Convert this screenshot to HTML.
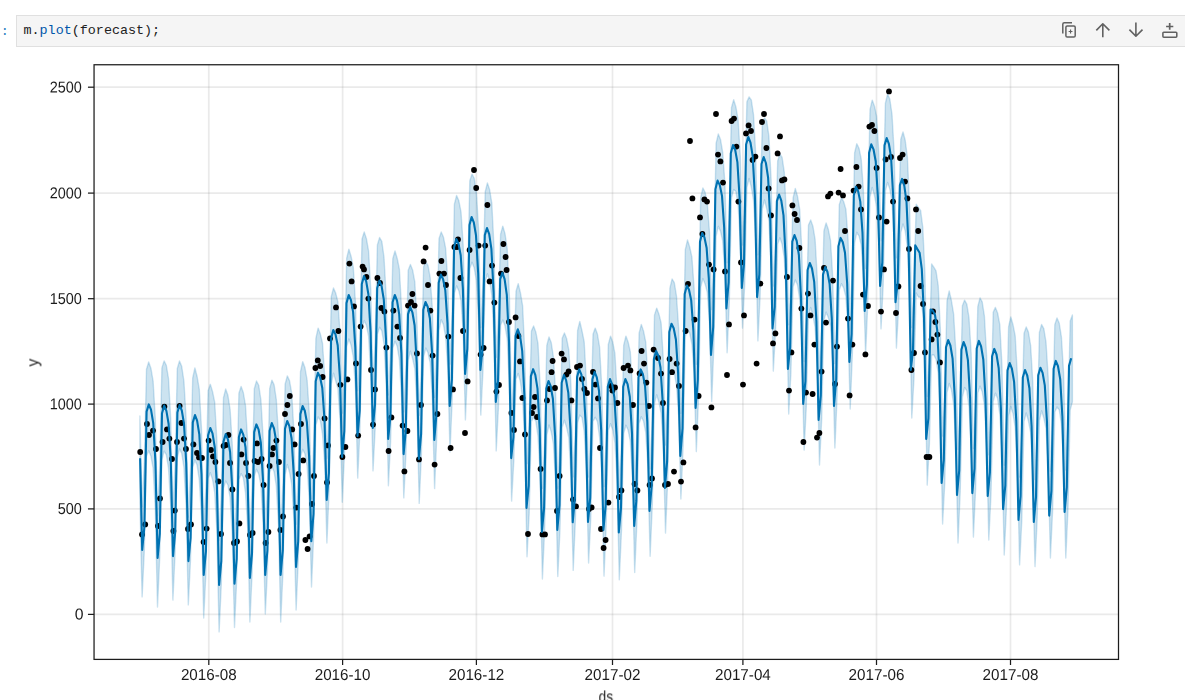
<!DOCTYPE html>
<html><head><meta charset="utf-8"><title>m.plot(forecast)</title>
<style>
html,body{margin:0;padding:0;background:#fff;}
body{width:1185px;height:700px;overflow:hidden;position:relative;font-family:"Liberation Sans",sans-serif;}
.prompt{position:absolute;left:0.8px;top:23.3px;font:13.4px/17px "Liberation Mono",monospace;color:#307fc1;}
.cell{position:absolute;left:16px;top:15px;width:1200px;height:29.6px;border:1px solid #e0e0e0;background:#f5f5f5;box-sizing:content-box;}
.code{position:absolute;left:6.5px;top:5.7px;font:13.4px/17px "Liberation Mono",monospace;color:#212121;white-space:pre;}
.code .p{color:#0055aa;}
svg{position:absolute;left:0;top:0;}
</style></head><body>
<div class="prompt">:</div>
<div class="cell"><div class="code">m.<span class="p">plot</span>(forecast);</div></div>
<svg width="1185" height="700" viewBox="0 0 1185 700">
<g fill="none" stroke="#616161" stroke-width="1.5" stroke-linejoin="round" stroke-linecap="butt">
<path d="M1072.0 22.7 H1064.3 Q1062.8 22.7 1062.8 24.2 V33.5"/>
<rect x="1065.9" y="25.9" width="9.3" height="11.2" rx="1.3"/>
<path d="M1070.55 29.6 V33.4 M1068.65 31.5 H1072.45" stroke-width="1.15"/>
<path d="M1102.8 37.3 V23.9 M1096.3 30.4 L1102.8 23.8 L1109.4 30.4" stroke-width="1.6"/>
<path d="M1135.9 22.6 V36.1 M1129.4 29.6 L1135.9 36.2 L1142.5 29.6" stroke-width="1.6"/>
<path d="M1169.7 22.9 V29.7 M1166.1 26.5 H1173.3" stroke-width="1.7"/>
<rect x="1162.9" y="32.2" width="13.9" height="5.0" rx="0.9" stroke-width="1.55"/>
</g>
<defs><filter id="soft" x="0" y="0" width="1185" height="700" filterUnits="userSpaceOnUse"><feGaussianBlur stdDeviation="0.32"/></filter></defs>
<g filter="url(#soft)">
<g stroke="#808080" stroke-opacity="0.165" stroke-width="1.7" fill="none"><line x1="208.8" y1="64.75" x2="208.8" y2="659.4"/><line x1="342.6" y1="64.75" x2="342.6" y2="659.4"/><line x1="476.4" y1="64.75" x2="476.4" y2="659.4"/><line x1="612.5" y1="64.75" x2="612.5" y2="659.4"/><line x1="742.9" y1="64.75" x2="742.9" y2="659.4"/><line x1="876.5" y1="64.75" x2="876.5" y2="659.4"/><line x1="1010.5" y1="64.75" x2="1010.5" y2="659.4"/><line x1="94.05" y1="614.4" x2="1118.5" y2="614.4"/><line x1="94.05" y1="508.9" x2="1118.5" y2="508.9"/><line x1="94.05" y1="404.1" x2="1118.5" y2="404.1"/><line x1="94.05" y1="298.7" x2="1118.5" y2="298.7"/><line x1="94.05" y1="193.1" x2="1118.5" y2="193.1"/><line x1="94.05" y1="87.2" x2="1118.5" y2="87.2"/></g>
<polygon points="139.9,415.9 142.1,506.6 144.3,463.4 146.5,369.2 148.7,362.0 150.9,368.2 153.1,381.0 155.3,418.1 157.5,515.7 159.7,468.0 161.9,367.9 164.1,360.9 166.3,365.3 168.5,378.5 170.7,418.6 172.9,512.8 175.1,464.3 177.3,368.5 179.5,360.9 181.7,366.3 183.9,381.0 186.1,417.7 188.3,517.1 190.5,470.7 192.7,378.0 194.9,367.9 197.1,376.5 199.3,389.4 201.5,429.0 203.7,529.1 205.9,486.7 208.1,390.7 210.3,384.3 212.5,391.4 214.7,402.2 216.9,440.9 219.1,540.3 221.3,493.8 223.5,397.6 225.7,389.0 227.9,395.3 230.1,409.5 232.3,445.1 234.5,538.9 236.7,493.1 238.9,393.2 241.1,386.4 243.3,392.5 245.5,405.5 247.7,442.4 249.9,535.0 252.1,485.8 254.3,388.8 256.5,381.0 258.7,385.2 260.9,399.9 263.1,437.3 265.3,530.2 267.5,485.9 269.7,388.4 271.9,380.1 274.1,384.8 276.3,399.5 278.5,436.1 280.7,529.7 282.9,482.7 285.1,384.2 287.3,375.9 289.5,380.6 291.7,393.1 293.9,431.3 296.1,524.3 298.3,472.6 300.5,371.6 302.7,361.6 304.9,367.4 307.1,380.0 309.3,413.4 311.5,498.7 313.7,443.6 315.9,338.3 318.1,328.1 320.3,333.8 322.5,343.2 324.7,376.5 326.9,458.2 329.1,405.6 331.3,296.4 333.5,288.0 335.7,293.1 337.9,301.9 340.1,333.3 342.3,413.1 344.5,361.1 346.7,258.1 348.9,249.1 351.1,256.5 353.3,267.4 355.5,303.5 357.7,390.8 359.9,340.8 362.0,239.1 364.2,232.0 366.4,238.6 368.6,251.2 370.8,290.3 373.0,385.3 375.2,338.2 377.4,244.9 379.6,237.5 381.8,241.3 384.0,257.2 386.2,296.8 388.4,395.0 390.6,349.3 392.8,258.6 395.0,251.0 397.2,258.4 399.4,269.2 401.6,309.6 403.8,411.9 406.0,364.3 408.2,270.3 410.4,264.4 412.6,269.9 414.8,281.9 417.0,322.0 419.2,415.3 421.4,367.2 423.6,266.8 425.8,261.9 428.0,265.4 430.2,277.7 432.4,309.2 434.6,397.4 436.8,344.6 439.0,238.8 441.2,232.0 443.4,237.0 445.6,248.1 447.8,280.9 450.0,364.1 452.2,309.6 454.4,204.1 456.6,195.5 458.8,200.6 461.0,211.8 463.2,245.5 465.4,330.9 467.6,283.2 469.8,180.7 472.0,174.1 474.2,178.3 476.4,192.5 478.6,229.8 480.8,327.5 483.0,281.8 485.2,191.8 487.4,182.9 489.6,189.5 491.8,203.0 494.0,247.4 496.2,357.3 498.4,316.5 500.6,234.1 502.8,226.1 505.0,233.6 507.2,248.6 509.4,296.3 511.6,412.2 513.8,374.7 516.0,291.4 518.2,283.6 520.4,292.7 522.6,305.6 524.8,352.6 527.0,463.6 529.2,422.5 531.4,331.1 533.6,326.0 535.8,331.9 538.0,343.6 540.2,387.1 542.4,488.4 544.6,442.1 546.8,345.5 549.0,336.9 551.2,342.4 553.4,357.0 555.6,392.4 557.8,488.2 560.0,437.2 562.2,338.3 564.4,332.9 566.6,338.6 568.8,349.9 571.0,385.8 573.2,476.9 575.4,430.9 577.6,330.4 579.8,321.5 582.0,330.8 584.2,342.0 586.4,382.5 588.6,477.0 590.8,430.2 593.0,334.3 595.2,328.1 597.4,334.0 599.6,347.2 601.8,387.7 604.0,486.5 606.1,440.7 608.3,344.5 610.5,336.1 612.7,341.9 614.9,353.4 617.1,392.6 619.3,489.8 621.5,443.3 623.7,345.2 625.9,336.1 628.1,341.9 630.3,351.8 632.5,388.7 634.7,482.2 636.9,432.4 639.1,333.2 641.3,324.5 643.5,330.9 645.7,341.8 647.9,378.4 650.1,468.9 652.3,419.2 654.5,314.9 656.7,308.1 658.9,313.9 661.1,322.8 663.3,358.9 665.5,445.0 667.7,393.4 669.9,288.1 672.1,279.0 674.3,282.6 676.5,296.2 678.7,329.0 680.9,413.4 683.1,359.2 685.3,249.6 687.5,240.0 689.7,247.0 691.9,257.2 694.1,288.0 696.3,364.3 698.5,310.3 700.7,197.4 702.9,188.0 705.1,192.2 707.3,203.6 709.5,232.0 711.7,309.6 713.9,255.7 716.1,143.3 718.3,134.0 720.5,139.4 722.7,152.3 724.9,183.2 727.1,262.8 729.3,212.2 731.5,107.4 733.7,99.7 735.9,106.9 738.1,119.8 740.3,156.0 742.5,245.0 744.7,198.3 746.9,101.8 749.1,96.9 751.3,99.9 753.5,114.6 755.7,154.2 757.9,254.9 760.1,213.2 762.3,123.5 764.5,118.0 766.7,120.9 768.9,136.2 771.1,179.0 773.3,286.0 775.5,244.8 777.7,160.8 779.9,154.0 782.1,157.4 784.3,172.4 786.5,217.3 788.7,324.7 790.9,282.7 793.1,197.8 795.3,188.4 797.5,196.2 799.7,209.4 801.9,251.6 804.1,361.6 806.3,316.7 808.5,225.0 810.7,220.0 812.9,226.2 815.1,239.4 817.3,278.8 819.5,374.9 821.7,330.2 823.9,231.0 826.1,222.9 828.3,229.3 830.5,240.5 832.7,277.2 834.9,363.5 837.1,312.1 839.3,204.6 841.5,197.4 843.7,201.8 845.9,209.4 848.1,239.9 850.2,318.0 852.4,265.5 854.6,152.8 856.8,143.7 859.0,148.2 861.2,159.0 863.4,190.6 865.6,268.2 867.8,214.2 870.0,109.7 872.2,100.1 874.4,105.9 876.6,116.2 878.8,152.5 881.0,240.7 883.2,196.2 885.4,103.2 887.6,94.0 889.8,99.0 892.0,114.3 894.2,153.0 896.4,257.7 898.6,219.7 900.8,139.3 903.0,131.9 905.2,140.3 907.4,157.3 909.6,206.8 911.8,327.5 914.0,287.2 916.2,204.2 918.4,207.3 920.6,210.4 922.8,227.4 925.0,274.9 927.2,396.5 929.4,355.9 931.6,264.0 933.8,267.2 936.0,270.8 938.2,285.5 940.4,329.7 942.6,436.0 944.8,394.3 947.0,300.8 949.2,291.0 951.4,300.5 953.6,313.8 955.8,351.1 958.0,449.5 960.2,405.5 962.4,305.7 964.6,300.1 966.8,304.2 969.0,317.7 971.2,353.9 973.4,448.5 975.6,403.7 977.8,306.6 980.0,297.9 982.2,301.8 984.4,316.1 986.6,355.6 988.8,454.8 991.0,406.8 993.2,312.3 995.4,307.4 997.6,313.0 999.8,324.6 1002.0,366.0 1004.2,465.2 1006.4,419.4 1008.6,326.8 1010.8,316.9 1013.0,324.7 1015.2,336.0 1017.4,375.7 1019.6,477.1 1021.8,430.7 1024.0,333.4 1026.2,327.0 1028.4,332.1 1030.6,345.3 1032.8,382.4 1035.0,479.6 1037.2,432.4 1039.4,332.4 1041.6,324.5 1043.8,328.6 1046.0,342.2 1048.2,377.6 1050.4,471.3 1052.6,425.3 1054.8,324.6 1057.0,318.0 1059.2,323.0 1061.4,336.8 1063.6,373.1 1065.8,470.0 1068.0,421.4 1070.2,321.0 1072.4,315.0 1072.4,401.9 1070.2,409.9 1068.0,508.7 1065.8,558.0 1063.6,463.7 1061.4,423.7 1059.2,409.7 1057.0,407.0 1054.8,412.0 1052.6,510.5 1050.4,558.0 1048.2,465.5 1046.0,428.3 1043.8,417.9 1041.6,410.8 1039.4,420.5 1037.2,518.1 1035.0,566.6 1032.8,472.6 1030.6,432.1 1028.4,420.8 1026.2,413.0 1024.0,421.6 1021.8,520.1 1019.6,564.9 1017.4,466.0 1015.2,427.5 1013.0,413.5 1010.8,406.4 1008.6,416.0 1006.4,508.7 1004.2,555.0 1002.0,451.8 999.8,414.0 997.6,398.6 995.4,393.1 993.2,401.6 991.0,494.0 988.8,540.0 986.6,443.0 984.4,405.0 982.2,391.7 980.0,386.1 977.8,393.1 975.6,488.9 973.4,537.1 971.2,444.0 969.0,406.8 966.8,390.7 964.6,387.5 962.4,397.0 960.2,491.9 958.0,543.0 955.8,444.7 953.6,403.9 951.4,389.5 949.2,383.5 947.0,392.6 944.8,482.2 942.6,524.0 940.4,415.8 938.2,372.9 936.0,359.2 933.8,354.7 931.6,355.3 929.4,444.0 927.2,485.1 925.0,361.4 922.8,313.3 920.6,297.2 918.4,297.0 916.2,293.0 914.0,377.9 911.8,418.0 909.6,294.6 907.4,247.6 905.2,230.8 903.0,223.9 900.8,232.6 898.6,308.7 896.4,348.1 894.2,242.5 892.0,201.0 889.8,189.1 887.6,182.4 885.4,190.7 883.2,285.1 881.0,328.9 878.8,242.3 876.6,206.6 874.4,195.2 872.2,187.4 870.0,197.0 867.8,302.8 865.6,355.0 863.4,278.6 861.2,244.8 859.0,235.9 856.8,232.3 854.6,242.9 852.4,352.9 850.2,409.0 848.1,330.2 845.9,296.6 843.7,288.0 841.5,283.7 839.3,289.7 837.1,396.3 834.9,448.0 832.7,362.0 830.5,325.7 828.3,317.4 826.1,312.1 823.9,320.6 821.7,418.5 819.5,465.0 817.3,366.2 815.1,327.3 812.9,315.4 810.7,307.4 808.5,315.2 806.3,406.9 804.1,450.1 801.9,344.6 799.7,299.4 797.5,284.7 795.3,280.0 793.1,286.8 790.9,373.1 788.7,414.0 786.5,303.0 784.3,258.2 782.1,244.3 779.9,237.8 777.7,243.9 775.5,331.4 773.3,371.1 771.1,265.0 768.9,221.0 766.7,208.8 764.5,200.0 762.3,209.0 760.1,296.3 757.9,340.9 755.7,238.7 753.5,200.1 751.3,187.1 749.1,178.4 746.9,187.5 744.7,284.4 742.5,328.1 740.3,241.9 738.1,204.7 735.9,191.6 733.7,189.4 731.5,197.8 729.3,302.4 727.1,352.7 724.9,273.9 722.7,240.9 720.5,231.3 718.3,226.3 716.1,236.2 713.9,344.8 711.7,401.6 709.5,322.4 707.3,292.3 705.1,283.9 702.9,278.5 700.7,287.4 698.5,398.5 696.3,451.6 694.1,373.2 691.9,344.0 689.7,333.0 687.5,329.6 685.3,336.9 683.1,447.0 680.9,499.0 678.7,416.2 676.5,385.5 674.3,372.8 672.1,369.9 669.9,375.7 667.7,480.6 665.5,533.1 663.3,445.7 661.1,413.1 658.9,402.2 656.7,394.8 654.5,403.2 652.3,504.8 650.1,556.3 647.9,466.4 645.7,432.2 643.5,421.0 641.3,416.7 639.1,423.5 636.9,522.6 634.7,572.5 632.5,478.9 630.3,441.0 628.1,430.0 625.9,425.2 623.7,433.6 621.5,530.0 619.3,579.7 617.1,480.6 614.9,442.6 612.7,429.5 610.5,423.7 608.3,430.6 606.1,527.3 604.0,576.1 601.8,474.1 599.6,437.3 597.4,421.3 595.2,417.3 593.0,421.5 590.8,517.2 588.6,563.0 586.4,471.0 584.2,431.4 582.0,417.5 579.8,415.1 577.6,422.8 575.4,519.6 573.2,570.4 571.0,477.5 568.8,437.6 566.6,427.4 564.4,420.2 562.2,427.2 560.0,528.8 557.8,576.5 555.6,481.9 553.4,444.0 551.2,431.8 549.0,425.0 546.8,435.2 544.6,530.0 542.4,579.0 540.2,475.2 538.0,436.1 535.8,421.1 533.6,417.3 531.4,421.6 529.2,513.1 527.0,556.7 524.8,442.6 522.6,398.3 520.4,381.8 518.2,373.5 516.0,378.9 513.8,461.1 511.6,501.1 509.4,387.3 507.2,338.8 505.0,325.8 502.8,320.0 500.6,325.1 498.4,408.2 496.2,450.9 494.0,339.0 491.8,295.0 489.6,281.1 487.4,273.8 485.2,281.7 483.0,370.3 480.8,415.1 478.6,319.8 476.4,280.6 474.2,267.8 472.0,262.2 469.8,268.9 467.6,368.8 465.4,419.9 463.2,332.5 461.0,300.7 458.8,290.7 456.6,285.9 454.4,293.0 452.2,399.1 450.0,452.0 447.8,368.5 445.6,336.5 443.4,324.4 441.2,319.7 439.0,330.5 436.8,435.0 434.6,488.6 432.4,400.1 430.2,362.8 428.0,352.8 425.8,348.1 423.6,356.9 421.4,453.9 419.2,503.4 417.0,406.5 414.8,368.6 412.6,358.6 410.4,351.1 408.2,360.6 406.0,452.2 403.8,497.9 401.6,398.3 399.4,359.9 397.2,346.2 395.0,341.3 392.8,348.2 390.6,441.2 388.4,485.7 386.2,383.7 384.0,343.9 381.8,330.7 379.6,327.3 377.4,334.2 375.2,428.2 373.0,470.9 370.8,375.3 368.6,336.3 366.4,325.2 364.2,320.6 362.0,328.9 359.9,431.3 357.7,478.1 355.5,389.8 353.3,356.9 351.1,345.2 348.9,338.9 346.7,346.8 344.5,453.0 342.3,502.3 340.1,420.1 337.9,388.6 335.7,380.7 333.5,373.1 331.3,384.0 329.1,490.8 326.9,543.0 324.7,463.9 322.5,434.2 320.3,420.3 318.1,416.9 315.9,425.2 313.7,534.5 311.5,587.0 309.3,500.7 307.1,465.9 304.9,453.8 302.7,449.3 300.5,457.3 298.3,559.6 296.1,610.0 293.9,518.9 291.7,484.2 289.5,472.0 287.3,464.4 285.1,474.7 282.9,573.0 280.7,622.0 278.5,524.9 276.3,485.8 274.1,471.7 271.9,466.7 269.7,472.8 267.5,569.2 265.3,614.0 263.1,523.9 260.9,484.8 258.7,474.0 256.5,469.2 254.3,476.0 252.1,572.9 249.9,622.0 247.7,527.9 245.5,492.7 243.3,477.6 241.1,473.7 238.9,479.7 236.7,579.8 234.5,627.5 232.3,535.9 230.1,497.6 227.9,485.0 225.7,481.0 223.5,488.4 221.3,584.2 219.1,631.9 216.9,531.0 214.7,492.4 212.5,479.2 210.3,472.7 208.1,478.5 205.9,573.3 203.7,618.0 201.5,517.5 199.3,479.8 197.1,465.1 194.9,460.0 192.7,467.7 190.5,560.0 188.3,604.9 186.1,506.8 183.9,467.0 181.7,453.2 179.5,448.9 177.3,457.5 175.1,552.5 172.9,600.1 170.7,504.6 168.5,468.1 166.3,454.7 164.1,451.1 161.9,459.8 159.7,557.8 157.5,607.0 155.3,509.3 153.1,467.9 150.9,456.0 148.7,450.8 146.5,456.2 144.3,551.0 142.1,596.9 139.9,502.8" fill="#0072B2" fill-opacity="0.2" stroke="#0072B2" stroke-opacity="0.2" stroke-width="1.4" stroke-linejoin="round"/>
<g fill="#000"><circle cx="140.2" cy="452.0" r="2.9"/><circle cx="147.0" cy="424.0" r="2.9"/><circle cx="149.0" cy="435.0" r="2.9"/><circle cx="153.0" cy="430.6" r="2.9"/><circle cx="156.0" cy="449.0" r="2.9"/><circle cx="162.6" cy="442.0" r="2.9"/><circle cx="164.4" cy="406.6" r="2.9"/><circle cx="167.0" cy="429.4" r="2.9"/><circle cx="169.4" cy="438.6" r="2.9"/><circle cx="172.0" cy="459.0" r="2.9"/><circle cx="177.0" cy="442.0" r="2.9"/><circle cx="179.6" cy="406.0" r="2.9"/><circle cx="181.4" cy="423.0" r="2.9"/><circle cx="184.0" cy="438.6" r="2.9"/><circle cx="186.0" cy="449.0" r="2.9"/><circle cx="193.4" cy="444.4" r="2.9"/><circle cx="197.0" cy="453.0" r="2.9"/><circle cx="199.0" cy="457.4" r="2.9"/><circle cx="202.0" cy="458.0" r="2.9"/><circle cx="208.6" cy="440.6" r="2.9"/><circle cx="211.0" cy="450.0" r="2.9"/><circle cx="213.0" cy="456.4" r="2.9"/><circle cx="215.4" cy="462.0" r="2.9"/><circle cx="223.6" cy="446.0" r="2.9"/><circle cx="226.0" cy="445.0" r="2.9"/><circle cx="228.4" cy="435.0" r="2.9"/><circle cx="230.0" cy="463.0" r="2.9"/><circle cx="241.4" cy="454.4" r="2.9"/><circle cx="243.6" cy="439.6" r="2.9"/><circle cx="246.0" cy="463.0" r="2.9"/><circle cx="254.6" cy="461.0" r="2.9"/><circle cx="257.0" cy="443.4" r="2.9"/><circle cx="258.0" cy="462.0" r="2.9"/><circle cx="261.6" cy="459.0" r="2.9"/><circle cx="269.6" cy="466.0" r="2.9"/><circle cx="272.0" cy="454.4" r="2.9"/><circle cx="273.4" cy="448.0" r="2.9"/><circle cx="276.4" cy="440.6" r="2.9"/><circle cx="279.0" cy="462.0" r="2.9"/><circle cx="285.0" cy="414.0" r="2.9"/><circle cx="287.4" cy="405.0" r="2.9"/><circle cx="289.8" cy="396.0" r="2.9"/><circle cx="292.2" cy="429.4" r="2.9"/><circle cx="294.6" cy="444.4" r="2.9"/><circle cx="301.0" cy="424.0" r="2.9"/><circle cx="303.2" cy="460.4" r="2.9"/><circle cx="315.4" cy="368.0" r="2.9"/><circle cx="317.8" cy="360.4" r="2.9"/><circle cx="320.2" cy="366.0" r="2.9"/><circle cx="322.6" cy="377.0" r="2.9"/><circle cx="324.6" cy="418.4" r="2.9"/><circle cx="328.0" cy="445.4" r="2.9"/><circle cx="330.0" cy="338.4" r="2.9"/><circle cx="160.0" cy="498.4" r="2.9"/><circle cx="174.8" cy="510.6" r="2.9"/><circle cx="145.2" cy="524.4" r="2.9"/><circle cx="142.0" cy="534.4" r="2.9"/><circle cx="158.0" cy="526.0" r="2.9"/><circle cx="173.4" cy="531.0" r="2.9"/><circle cx="191.0" cy="524.4" r="2.9"/><circle cx="188.0" cy="529.0" r="2.9"/><circle cx="206.6" cy="528.6" r="2.9"/><circle cx="203.6" cy="542.0" r="2.9"/><circle cx="221.0" cy="534.0" r="2.9"/><circle cx="218.4" cy="481.4" r="2.9"/><circle cx="232.4" cy="489.4" r="2.9"/><circle cx="239.4" cy="523.4" r="2.9"/><circle cx="237.0" cy="541.4" r="2.9"/><circle cx="234.0" cy="543.0" r="2.9"/><circle cx="248.4" cy="476.0" r="2.9"/><circle cx="252.6" cy="533.0" r="2.9"/><circle cx="250.0" cy="535.0" r="2.9"/><circle cx="263.6" cy="485.0" r="2.9"/><circle cx="268.4" cy="532.0" r="2.9"/><circle cx="265.6" cy="543.0" r="2.9"/><circle cx="283.0" cy="516.4" r="2.9"/><circle cx="280.4" cy="530.0" r="2.9"/><circle cx="296.4" cy="507.6" r="2.9"/><circle cx="298.6" cy="474.0" r="2.9"/><circle cx="314.0" cy="476.0" r="2.9"/><circle cx="312.0" cy="504.0" r="2.9"/><circle cx="309.6" cy="536.4" r="2.9"/><circle cx="305.4" cy="540.0" r="2.9"/><circle cx="307.6" cy="549.0" r="2.9"/><circle cx="327.0" cy="482.4" r="2.9"/><circle cx="349.4" cy="263.6" r="2.9"/><circle cx="351.6" cy="281.4" r="2.9"/><circle cx="362.6" cy="266.6" r="2.9"/><circle cx="364.0" cy="269.4" r="2.9"/><circle cx="366.4" cy="277.0" r="2.9"/><circle cx="377.4" cy="278.0" r="2.9"/><circle cx="380.0" cy="283.0" r="2.9"/><circle cx="425.6" cy="247.6" r="2.9"/><circle cx="423.6" cy="261.4" r="2.9"/><circle cx="428.0" cy="285.0" r="2.9"/><circle cx="441.4" cy="261.0" r="2.9"/><circle cx="439.4" cy="273.6" r="2.9"/><circle cx="444.0" cy="273.6" r="2.9"/><circle cx="446.0" cy="285.0" r="2.9"/><circle cx="458.0" cy="239.4" r="2.9"/><circle cx="454.4" cy="247.0" r="2.9"/><circle cx="457.0" cy="247.0" r="2.9"/><circle cx="460.4" cy="278.0" r="2.9"/><circle cx="474.0" cy="170.0" r="2.9"/><circle cx="476.2" cy="188.0" r="2.9"/><circle cx="469.6" cy="250.0" r="2.9"/><circle cx="478.6" cy="245.6" r="2.9"/><circle cx="487.4" cy="205.0" r="2.9"/><circle cx="485.2" cy="245.6" r="2.9"/><circle cx="492.0" cy="265.6" r="2.9"/><circle cx="489.6" cy="281.4" r="2.9"/><circle cx="503.4" cy="244.0" r="2.9"/><circle cx="505.6" cy="257.0" r="2.9"/><circle cx="506.6" cy="270.0" r="2.9"/><circle cx="501.0" cy="273.6" r="2.9"/><circle cx="336.0" cy="307.4" r="2.9"/><circle cx="354.0" cy="306.4" r="2.9"/><circle cx="368.4" cy="298.6" r="2.9"/><circle cx="381.4" cy="308.0" r="2.9"/><circle cx="384.4" cy="311.6" r="2.9"/><circle cx="393.4" cy="310.6" r="2.9"/><circle cx="338.4" cy="331.0" r="2.9"/><circle cx="360.6" cy="326.6" r="2.9"/><circle cx="397.4" cy="326.6" r="2.9"/><circle cx="400.0" cy="338.0" r="2.9"/><circle cx="386.4" cy="347.6" r="2.9"/><circle cx="356.0" cy="363.4" r="2.9"/><circle cx="347.4" cy="379.4" r="2.9"/><circle cx="340.4" cy="384.8" r="2.9"/><circle cx="371.0" cy="370.0" r="2.9"/><circle cx="375.0" cy="389.4" r="2.9"/><circle cx="412.4" cy="294.0" r="2.9"/><circle cx="411.0" cy="302.0" r="2.9"/><circle cx="408.0" cy="305.6" r="2.9"/><circle cx="414.6" cy="305.6" r="2.9"/><circle cx="430.4" cy="310.6" r="2.9"/><circle cx="417.0" cy="353.4" r="2.9"/><circle cx="432.6" cy="355.6" r="2.9"/><circle cx="421.0" cy="405.0" r="2.9"/><circle cx="448.4" cy="336.6" r="2.9"/><circle cx="463.0" cy="331.0" r="2.9"/><circle cx="453.0" cy="389.4" r="2.9"/><circle cx="467.6" cy="381.4" r="2.9"/><circle cx="494.4" cy="302.6" r="2.9"/><circle cx="483.6" cy="348.0" r="2.9"/><circle cx="480.6" cy="354.6" r="2.9"/><circle cx="499.0" cy="385.0" r="2.9"/><circle cx="496.4" cy="391.6" r="2.9"/><circle cx="515.6" cy="317.4" r="2.9"/><circle cx="509.0" cy="322.0" r="2.9"/><circle cx="518.4" cy="336.0" r="2.9"/><circle cx="520.0" cy="361.4" r="2.9"/><circle cx="522.4" cy="398.0" r="2.9"/><circle cx="535.0" cy="397.0" r="2.9"/><circle cx="533.6" cy="407.0" r="2.9"/><circle cx="345.4" cy="447.0" r="2.9"/><circle cx="342.4" cy="457.0" r="2.9"/><circle cx="358.2" cy="435.6" r="2.9"/><circle cx="373.0" cy="424.6" r="2.9"/><circle cx="391.4" cy="417.4" r="2.9"/><circle cx="388.6" cy="451.0" r="2.9"/><circle cx="402.6" cy="425.6" r="2.9"/><circle cx="407.4" cy="431.0" r="2.9"/><circle cx="404.4" cy="471.4" r="2.9"/><circle cx="419.0" cy="459.4" r="2.9"/><circle cx="437.4" cy="414.0" r="2.9"/><circle cx="434.6" cy="464.6" r="2.9"/><circle cx="450.6" cy="448.0" r="2.9"/><circle cx="465.0" cy="433.0" r="2.9"/><circle cx="511.4" cy="413.0" r="2.9"/><circle cx="514.0" cy="430.0" r="2.9"/><circle cx="525.0" cy="434.4" r="2.9"/><circle cx="532.0" cy="413.0" r="2.9"/><circle cx="537.0" cy="417.0" r="2.9"/><circle cx="552.6" cy="361.0" r="2.9"/><circle cx="551.6" cy="372.2" r="2.9"/><circle cx="555.0" cy="388.0" r="2.9"/><circle cx="549.4" cy="389.0" r="2.9"/><circle cx="547.0" cy="400.4" r="2.9"/><circle cx="561.6" cy="353.6" r="2.9"/><circle cx="564.0" cy="359.4" r="2.9"/><circle cx="568.6" cy="371.4" r="2.9"/><circle cx="566.4" cy="374.6" r="2.9"/><circle cx="571.4" cy="400.4" r="2.9"/><circle cx="577.0" cy="367.0" r="2.9"/><circle cx="580.0" cy="365.6" r="2.9"/><circle cx="582.0" cy="379.0" r="2.9"/><circle cx="584.4" cy="389.0" r="2.9"/><circle cx="587.0" cy="393.0" r="2.9"/><circle cx="593.0" cy="372.0" r="2.9"/><circle cx="595.4" cy="384.6" r="2.9"/><circle cx="598.0" cy="398.4" r="2.9"/><circle cx="611.0" cy="386.0" r="2.9"/><circle cx="615.0" cy="387.4" r="2.9"/><circle cx="612.4" cy="390.6" r="2.9"/><circle cx="617.4" cy="403.0" r="2.9"/><circle cx="623.6" cy="368.0" r="2.9"/><circle cx="628.0" cy="365.6" r="2.9"/><circle cx="630.4" cy="370.4" r="2.9"/><circle cx="633.0" cy="405.0" r="2.9"/><circle cx="641.6" cy="351.0" r="2.9"/><circle cx="644.0" cy="363.6" r="2.9"/><circle cx="639.6" cy="373.4" r="2.9"/><circle cx="646.4" cy="382.6" r="2.9"/><circle cx="649.0" cy="406.0" r="2.9"/><circle cx="653.6" cy="349.6" r="2.9"/><circle cx="658.0" cy="358.0" r="2.9"/><circle cx="661.0" cy="373.6" r="2.9"/><circle cx="663.0" cy="403.0" r="2.9"/><circle cx="669.6" cy="359.0" r="2.9"/><circle cx="676.6" cy="363.6" r="2.9"/><circle cx="672.0" cy="372.2" r="2.9"/><circle cx="679.0" cy="386.0" r="2.9"/><circle cx="685.6" cy="331.0" r="2.9"/><circle cx="694.6" cy="319.6" r="2.9"/><circle cx="698.6" cy="396.0" r="2.9"/><circle cx="695.6" cy="427.4" r="2.9"/><circle cx="711.4" cy="407.4" r="2.9"/><circle cx="729.0" cy="324.4" r="2.9"/><circle cx="727.0" cy="375.0" r="2.9"/><circle cx="744.0" cy="315.4" r="2.9"/><circle cx="743.0" cy="384.6" r="2.9"/><circle cx="756.6" cy="363.6" r="2.9"/><circle cx="528.0" cy="534.0" r="2.9"/><circle cx="540.6" cy="469.0" r="2.9"/><circle cx="542.4" cy="534.4" r="2.9"/><circle cx="545.0" cy="534.4" r="2.9"/><circle cx="559.6" cy="476.0" r="2.9"/><circle cx="557.0" cy="511.0" r="2.9"/><circle cx="573.0" cy="499.6" r="2.9"/><circle cx="576.0" cy="506.4" r="2.9"/><circle cx="589.0" cy="509.0" r="2.9"/><circle cx="591.6" cy="507.4" r="2.9"/><circle cx="600.0" cy="448.0" r="2.9"/><circle cx="608.4" cy="502.6" r="2.9"/><circle cx="601.0" cy="529.0" r="2.9"/><circle cx="605.6" cy="540.0" r="2.9"/><circle cx="603.6" cy="548.0" r="2.9"/><circle cx="621.4" cy="490.4" r="2.9"/><circle cx="619.0" cy="497.0" r="2.9"/><circle cx="634.6" cy="484.0" r="2.9"/><circle cx="637.4" cy="490.4" r="2.9"/><circle cx="652.0" cy="478.4" r="2.9"/><circle cx="649.6" cy="485.0" r="2.9"/><circle cx="665.0" cy="485.0" r="2.9"/><circle cx="668.0" cy="484.0" r="2.9"/><circle cx="674.0" cy="471.6" r="2.9"/><circle cx="683.4" cy="462.4" r="2.9"/><circle cx="681.0" cy="481.6" r="2.9"/><circle cx="690.0" cy="141.0" r="2.9"/><circle cx="692.4" cy="198.4" r="2.9"/><circle cx="704.4" cy="199.4" r="2.9"/><circle cx="707.0" cy="201.6" r="2.9"/><circle cx="716.0" cy="114.0" r="2.9"/><circle cx="718.0" cy="154.6" r="2.9"/><circle cx="720.4" cy="161.4" r="2.9"/><circle cx="723.0" cy="182.6" r="2.9"/><circle cx="731.6" cy="121.0" r="2.9"/><circle cx="734.0" cy="118.6" r="2.9"/><circle cx="736.4" cy="146.6" r="2.9"/><circle cx="738.4" cy="201.6" r="2.9"/><circle cx="748.6" cy="125.4" r="2.9"/><circle cx="751.0" cy="131.0" r="2.9"/><circle cx="746.0" cy="133.4" r="2.9"/><circle cx="755.4" cy="156.6" r="2.9"/><circle cx="752.6" cy="160.0" r="2.9"/><circle cx="764.0" cy="114.0" r="2.9"/><circle cx="762.0" cy="122.0" r="2.9"/><circle cx="766.4" cy="148.0" r="2.9"/><circle cx="768.6" cy="188.4" r="2.9"/><circle cx="780.0" cy="136.4" r="2.9"/><circle cx="777.6" cy="153.4" r="2.9"/><circle cx="784.4" cy="179.4" r="2.9"/><circle cx="782.0" cy="180.4" r="2.9"/><circle cx="792.4" cy="205.4" r="2.9"/><circle cx="830.4" cy="193.6" r="2.9"/><circle cx="828.0" cy="196.4" r="2.9"/><circle cx="838.6" cy="192.6" r="2.9"/><circle cx="843.0" cy="195.4" r="2.9"/><circle cx="840.6" cy="169.0" r="2.9"/><circle cx="856.4" cy="167.0" r="2.9"/><circle cx="858.6" cy="186.6" r="2.9"/><circle cx="853.6" cy="190.6" r="2.9"/><circle cx="861.0" cy="209.4" r="2.9"/><circle cx="872.0" cy="125.0" r="2.9"/><circle cx="869.4" cy="126.6" r="2.9"/><circle cx="874.4" cy="131.0" r="2.9"/><circle cx="876.6" cy="168.0" r="2.9"/><circle cx="889.0" cy="91.4" r="2.9"/><circle cx="891.0" cy="157.0" r="2.9"/><circle cx="885.6" cy="159.4" r="2.9"/><circle cx="893.0" cy="201.6" r="2.9"/><circle cx="700.0" cy="217.4" r="2.9"/><circle cx="702.4" cy="234.0" r="2.9"/><circle cx="709.0" cy="264.6" r="2.9"/><circle cx="713.6" cy="269.4" r="2.9"/><circle cx="688.0" cy="284.0" r="2.9"/><circle cx="725.0" cy="271.4" r="2.9"/><circle cx="741.0" cy="262.4" r="2.9"/><circle cx="771.0" cy="215.4" r="2.9"/><circle cx="760.4" cy="283.6" r="2.9"/><circle cx="794.6" cy="214.0" r="2.9"/><circle cx="797.0" cy="220.0" r="2.9"/><circle cx="799.4" cy="248.0" r="2.9"/><circle cx="787.0" cy="277.0" r="2.9"/><circle cx="808.0" cy="293.6" r="2.9"/><circle cx="801.4" cy="308.6" r="2.9"/><circle cx="810.4" cy="315.4" r="2.9"/><circle cx="824.0" cy="268.0" r="2.9"/><circle cx="833.0" cy="280.6" r="2.9"/><circle cx="826.0" cy="322.6" r="2.9"/><circle cx="845.0" cy="231.0" r="2.9"/><circle cx="848.0" cy="318.6" r="2.9"/><circle cx="863.0" cy="294.6" r="2.9"/><circle cx="868.0" cy="306.0" r="2.9"/><circle cx="879.0" cy="217.4" r="2.9"/><circle cx="886.6" cy="221.6" r="2.9"/><circle cx="884.0" cy="269.4" r="2.9"/><circle cx="881.0" cy="311.6" r="2.9"/><circle cx="896.0" cy="313.0" r="2.9"/><circle cx="775.4" cy="333.4" r="2.9"/><circle cx="773.0" cy="343.4" r="2.9"/><circle cx="791.4" cy="352.4" r="2.9"/><circle cx="789.0" cy="390.6" r="2.9"/><circle cx="814.4" cy="344.6" r="2.9"/><circle cx="821.6" cy="371.6" r="2.9"/><circle cx="806.0" cy="392.6" r="2.9"/><circle cx="812.6" cy="394.0" r="2.9"/><circle cx="819.4" cy="433.0" r="2.9"/><circle cx="817.0" cy="437.6" r="2.9"/><circle cx="803.4" cy="442.0" r="2.9"/><circle cx="837.0" cy="346.6" r="2.9"/><circle cx="852.4" cy="344.6" r="2.9"/><circle cx="835.0" cy="384.0" r="2.9"/><circle cx="849.6" cy="395.4" r="2.9"/><circle cx="865.4" cy="354.4" r="2.9"/><circle cx="902.6" cy="154.6" r="2.9"/><circle cx="900.0" cy="158.0" r="2.9"/><circle cx="905.0" cy="181.6" r="2.9"/><circle cx="907.4" cy="198.4" r="2.9"/><circle cx="916.0" cy="209.4" r="2.9"/><circle cx="918.2" cy="231.0" r="2.9"/><circle cx="909.0" cy="249.0" r="2.9"/><circle cx="898.4" cy="286.4" r="2.9"/><circle cx="920.6" cy="286.0" r="2.9"/><circle cx="923.0" cy="304.0" r="2.9"/><circle cx="933.0" cy="311.4" r="2.9"/><circle cx="935.4" cy="322.0" r="2.9"/><circle cx="937.4" cy="334.6" r="2.9"/><circle cx="931.6" cy="339.4" r="2.9"/><circle cx="940.0" cy="362.4" r="2.9"/><circle cx="914.0" cy="353.0" r="2.9"/><circle cx="925.0" cy="352.4" r="2.9"/><circle cx="911.4" cy="370.0" r="2.9"/><circle cx="926.6" cy="457.0" r="2.9"/><circle cx="929.4" cy="457.0" r="2.9"/></g>
<polyline points="140.1,458.2 142.2,549.9 144.4,526.7 146.6,411.6 148.8,404.4 151.0,409.7 153.2,422.8 155.4,461.2 157.6,558.0 159.8,533.6 162.0,413.2 164.2,405.6 166.4,410.9 168.6,423.7 170.8,461.3 173.0,556.1 175.2,531.9 177.4,412.5 179.6,405.0 181.8,410.5 184.0,423.7 186.2,462.8 188.4,561.1 190.6,537.8 192.8,422.4 195.0,415.1 197.1,420.7 199.3,434.3 201.5,474.3 203.7,575.0 205.9,551.5 208.1,435.3 210.3,428.0 212.5,433.4 214.7,446.8 216.9,486.0 219.1,584.9 221.3,560.8 223.5,441.6 225.7,434.1 227.9,439.3 230.1,452.0 232.3,489.4 234.5,583.7 236.7,559.0 238.9,437.1 241.1,429.4 243.3,434.6 245.5,447.3 247.7,484.4 249.9,578.0 252.0,553.4 254.2,432.1 256.4,424.4 258.6,429.6 260.8,442.4 263.0,480.1 265.2,575.0 267.4,550.7 269.6,430.7 271.8,423.1 274.0,428.4 276.2,441.3 278.4,479.3 280.6,575.0 282.8,550.4 285.0,428.7 287.2,421.0 289.4,426.1 291.6,438.5 293.8,475.0 296.0,567.0 298.2,541.3 300.4,414.1 302.6,406.0 304.8,410.8 306.9,422.2 309.1,456.0 311.3,541.1 313.5,514.2 315.7,381.2 317.9,372.7 320.1,377.2 322.3,388.0 324.5,419.8 326.7,500.0 328.9,472.8 331.1,338.5 333.3,330.0 335.5,334.4 337.7,345.2 339.9,377.0 342.1,457.0 344.3,431.1 346.5,303.1 348.7,295.0 350.9,299.9 353.1,311.9 355.3,347.2 357.5,436.0 359.7,410.4 361.8,284.0 364.0,276.0 366.2,281.4 368.4,294.3 370.6,332.2 372.8,428.0 375.0,404.4 377.2,288.0 379.4,280.7 381.6,286.2 383.8,299.7 386.0,339.2 388.2,438.9 390.4,415.9 392.6,302.2 394.8,295.0 397.0,300.6 399.2,314.1 401.4,353.9 403.6,454.1 405.8,430.5 408.0,314.4 410.2,307.0 412.4,312.3 414.6,325.2 416.7,363.2 418.9,458.9 421.1,433.8 423.3,309.8 425.5,302.0 427.7,306.8 429.9,318.5 432.1,353.0 434.3,440.0 436.5,413.5 438.7,282.8 440.9,274.6 443.1,279.2 445.3,290.3 447.5,323.2 449.7,406.0 451.9,379.3 454.1,247.3 456.3,239.0 458.5,243.7 460.7,255.2 462.9,288.9 465.1,374.0 467.3,348.9 469.5,224.9 471.6,217.0 473.8,222.4 476.0,235.4 478.2,273.6 480.4,370.0 482.6,347.3 484.8,235.1 487.0,228.0 489.2,234.1 491.4,248.9 493.6,292.4 495.8,402.0 498.0,381.3 500.2,279.1 502.4,272.7 504.6,279.2 506.8,294.9 509.0,341.3 511.2,458.1 513.4,437.5 515.6,335.8 517.8,329.3 520.0,335.6 522.2,350.8 524.4,395.5 526.5,508.0 528.7,485.8 530.9,376.1 533.1,369.2 535.3,374.9 537.5,388.7 539.7,429.4 541.9,532.0 544.1,507.9 546.3,388.5 548.5,381.0 550.7,386.2 552.9,398.8 555.1,436.1 557.3,529.9 559.5,505.2 561.7,382.8 563.9,375.1 566.1,380.2 568.3,392.7 570.5,429.6 572.7,522.3 574.9,497.9 577.1,377.0 579.2,369.4 581.4,374.7 583.6,387.7 585.8,425.8 588.0,521.9 590.2,497.9 592.4,379.4 594.6,371.9 596.8,377.4 599.0,390.9 601.2,430.4 603.4,529.9 605.6,505.8 607.8,386.6 610.0,379.1 612.2,384.4 614.4,397.5 616.6,435.8 618.8,532.5 621.0,507.9 623.2,386.7 625.4,379.1 627.6,384.2 629.8,396.7 632.0,433.4 634.2,525.9 636.3,500.9 638.5,377.2 640.7,369.4 642.9,374.3 645.1,386.4 647.3,421.8 649.5,511.0 651.7,485.4 653.9,359.0 656.1,351.0 658.3,355.8 660.5,367.5 662.7,401.7 664.9,488.0 667.1,461.7 669.3,331.9 671.5,323.7 673.7,328.3 675.9,339.5 678.1,372.6 680.3,456.0 682.5,428.7 684.7,294.0 686.9,285.5 689.0,289.8 691.2,300.2 693.4,330.8 695.6,407.9 697.8,380.0 700.0,241.8 702.2,233.1 704.4,237.3 706.6,247.7 708.8,278.2 711.0,355.0 713.2,327.1 715.4,189.3 717.6,180.6 719.8,185.1 722.0,195.9 724.2,227.9 726.4,308.5 728.6,282.3 730.8,153.2 733.0,145.0 735.2,150.0 737.4,162.1 739.6,197.9 741.8,288.0 744.0,263.9 746.1,144.5 748.3,137.0 750.5,142.6 752.7,156.2 754.9,196.2 757.1,297.1 759.3,274.7 761.5,164.0 763.7,157.0 765.9,163.0 768.1,177.6 770.3,220.5 772.5,328.5 774.7,307.1 776.9,201.2 779.1,194.5 781.3,200.6 783.5,215.4 785.7,259.0 787.9,369.0 790.1,347.5 792.3,241.7 794.5,235.0 796.7,240.9 798.9,255.2 801.0,297.5 803.2,403.9 805.4,381.4 807.6,270.0 809.8,263.0 812.0,268.5 814.2,281.8 816.4,321.1 818.6,419.9 820.8,395.5 823.0,274.6 825.2,267.0 827.4,271.8 829.6,283.7 831.8,318.4 834.0,406.0 836.2,379.1 838.4,246.3 840.6,237.9 842.8,242.2 845.0,252.8 847.2,283.8 849.4,362.0 851.6,334.0 853.8,195.5 855.9,186.7 858.1,191.1 860.3,201.6 862.5,232.7 864.7,311.0 866.9,284.3 869.1,152.7 871.3,144.3 873.5,149.3 875.7,161.3 877.9,196.7 880.1,285.9 882.3,262.3 884.5,145.4 886.7,138.0 888.9,143.8 891.1,157.7 893.3,198.8 895.5,302.2 897.7,282.4 899.9,185.1 902.1,178.9 904.3,185.6 906.5,201.8 908.7,249.6 910.8,370.0 913.0,350.2 915.2,245.3 917.4,249.1 919.6,252.7 921.8,269.1 924.0,317.3 926.2,438.9 928.4,418.1 930.6,309.5 932.8,310.6 935.0,315.0 937.2,329.8 939.4,373.3 941.6,482.9 943.8,460.1 946.0,347.2 948.2,340.1 950.4,345.5 952.6,358.7 954.8,397.4 957.0,495.0 959.2,470.5 961.4,349.6 963.6,342.0 965.7,347.3 967.9,360.1 970.1,397.9 972.3,493.1 974.5,468.7 976.7,348.5 978.9,340.9 981.1,346.4 983.3,359.5 985.5,398.3 987.7,496.0 989.9,472.5 992.1,356.3 994.3,348.9 996.5,354.5 998.7,368.2 1000.9,408.2 1003.1,509.1 1005.3,485.7 1007.5,370.4 1009.7,363.1 1011.9,368.6 1014.1,381.9 1016.3,421.1 1018.5,520.0 1020.6,496.0 1022.8,377.5 1025.0,370.0 1027.2,375.3 1029.4,388.2 1031.6,426.2 1033.8,521.9 1036.0,497.2 1038.2,375.4 1040.4,367.7 1042.6,372.9 1044.8,385.4 1047.0,422.4 1049.2,515.6 1051.4,490.9 1053.6,368.7 1055.8,360.9 1058.0,366.2 1060.2,379.1 1062.4,416.8 1064.6,512.0 1066.8,487.4 1069.0,365.9 1071.2,358.2" fill="none" stroke="#0072B2" stroke-width="2.1" stroke-linejoin="round" stroke-linecap="butt"/>
</g>
<rect x="94.05" y="64.75" width="1024.45" height="594.65" fill="none" stroke="#1c1c1c" stroke-width="1.25"/>
<g stroke="#1c1c1c" stroke-width="1.25"><line x1="208.8" y1="659.4" x2="208.8" y2="665.0"/><line x1="342.6" y1="659.4" x2="342.6" y2="665.0"/><line x1="476.4" y1="659.4" x2="476.4" y2="665.0"/><line x1="612.5" y1="659.4" x2="612.5" y2="665.0"/><line x1="742.9" y1="659.4" x2="742.9" y2="665.0"/><line x1="876.5" y1="659.4" x2="876.5" y2="665.0"/><line x1="1010.5" y1="659.4" x2="1010.5" y2="665.0"/><line x1="87.95" y1="614.4" x2="94.05" y2="614.4"/><line x1="87.95" y1="508.9" x2="94.05" y2="508.9"/><line x1="87.95" y1="404.1" x2="94.05" y2="404.1"/><line x1="87.95" y1="298.7" x2="94.05" y2="298.7"/><line x1="87.95" y1="193.1" x2="94.05" y2="193.1"/><line x1="87.95" y1="87.2" x2="94.05" y2="87.2"/></g>
<g font-family="'Liberation Sans',sans-serif" font-size="15.8" fill="#1a1a1a" opacity="0.99"><text transform="translate(208.8,680.0) rotate(0.05) scale(0.962,1)" text-anchor="middle">2016-08</text><text transform="translate(342.6,680.0) rotate(0.05) scale(0.962,1)" text-anchor="middle">2016-10</text><text transform="translate(476.4,680.0) rotate(0.05) scale(0.962,1)" text-anchor="middle">2016-12</text><text transform="translate(612.5,680.0) rotate(0.05) scale(0.962,1)" text-anchor="middle">2017-02</text><text transform="translate(742.9,680.0) rotate(0.05) scale(0.962,1)" text-anchor="middle">2017-04</text><text transform="translate(876.5,680.0) rotate(0.05) scale(0.962,1)" text-anchor="middle">2017-06</text><text transform="translate(1010.5,680.0) rotate(0.05) scale(0.962,1)" text-anchor="middle">2017-08</text><text transform="translate(83.60000000000001,619.6) rotate(0.05) scale(1.0,1)" text-anchor="end">0</text><text transform="translate(81.80000000000001,514.1) rotate(0.05) scale(0.915,1)" text-anchor="end">500</text><text transform="translate(81.80000000000001,409.4) rotate(0.05) scale(0.915,1)" text-anchor="end">1000</text><text transform="translate(81.80000000000001,304.0) rotate(0.05) scale(0.915,1)" text-anchor="end">1500</text><text transform="translate(81.80000000000001,198.4) rotate(0.05) scale(0.915,1)" text-anchor="end">2000</text><text transform="translate(81.80000000000001,92.5) rotate(0.05) scale(0.915,1)" text-anchor="end">2500</text>
<text transform="translate(605.9,702.4) rotate(0.05) scale(0.86,1)" text-anchor="middle">ds</text>
<text transform="translate(38.4,362.6) rotate(-90.05)" text-anchor="middle">y</text>
</g>
</svg>
</body></html>
